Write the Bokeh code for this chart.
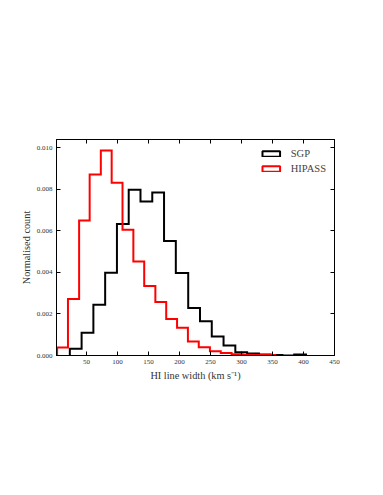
from bokeh.plotting import figure
from bokeh.models import (LinearAxis, FixedTicker, PrintfTickFormatter, Range1d,
                          Legend, LegendItem, ColumnDataSource, CustomJSTickFormatter)
from bokeh.embed import file_html
from bokeh.resources import INLINE

# ---- data ----
sgp_edges = [23, 42, 61, 80, 99, 118, 137, 156, 175, 194, 214, 233, 252, 271,
             290, 309, 328, 347, 366, 385, 404]
sgp_vals = [0.00032, 0.00109, 0.00244, 0.00399, 0.00633, 0.00798, 0.00742,
            0.00785, 0.00551, 0.00397, 0.00229, 0.00165, 0.00091, 0.00048,
            0.00016, 0.00010, 0.00005, 0.00002, 0.00000, 0.00005]
hipass_edges = [2.5, 20, 38, 55, 73, 90.5, 108, 125.5, 143, 161, 178.5, 196,
                213.5, 231, 249, 266.5, 284, 301.5, 319, 337, 354.5]
hipass_vals = [0.00038, 0.00272, 0.00650, 0.00872, 0.00987, 0.00832, 0.00605,
               0.00452, 0.00335, 0.00257, 0.00176, 0.00134, 0.00068, 0.00040,
               0.00020, 0.00012, 0.00006, 0.00004, 0.00002, 0.00002]
x_ticks = [50, 100, 150, 200, 250, 300, 350, 400, 450]
y_ticks = [0.0, 0.002, 0.004, 0.006, 0.008, 0.010]
series_names = ["SGP", "HIPASS"]
series_colors = ["black", "red"]

FONT = "Liberation Serif"


def step_outline(edges, vals):
    xs = [edges[0]]
    ys = [0.0]
    for i, v in enumerate(vals):
        xs += [edges[i], edges[i + 1]]
        ys += [v, v]
    xs.append(edges[-1])
    ys.append(0.0)
    return xs, ys


p = figure(width=375, height=487, output_backend="svg", toolbar_location=None,
           x_range=Range1d(1.5, 450), y_range=Range1d(0, 0.0104),
           min_border_left=56, min_border_right=41, min_border_top=139,
           min_border_bottom=132)
p.background_fill_color = "white"
p.border_fill_color = "white"
p.outline_line_color = "black"
p.outline_line_width = 1
p.xgrid.visible = False
p.ygrid.visible = False

for edges, vals, col in [(sgp_edges, sgp_vals, series_colors[0]),
                         (hipass_edges, hipass_vals, series_colors[1])]:
    xs, ys = step_outline(edges, vals)
    p.line(xs, ys, line_color=col, line_width=2, line_join="miter")

legend_items = []
nan = float("nan")
for name, col in zip(series_names, series_colors):
    src = ColumnDataSource(dict(left=[nan], right=[nan], top=[nan], bottom=[nan]))
    r = p.quad(left="left", right="right", top="top", bottom="bottom", source=src,
               fill_color="white", line_color=col, line_width=2)
    legend_items.append(LegendItem(label=name, renderers=[r]))

legend = Legend(items=legend_items, location="top_right", border_line_color=None,
                background_fill_alpha=0, label_text_font=FONT,
                label_text_font_size="10.5px", glyph_width=22, glyph_height=7,
                label_height=12, spacing=3, label_standoff=9, padding=0, margin=8)
p.add_layout(legend, "center")

xt = FixedTicker(ticks=x_ticks)
yt = FixedTicker(ticks=y_ticks)


def style(ax, show_labels=True):
    ax.axis_line_color = "black"
    ax.major_tick_in = 4
    ax.major_tick_out = 0
    ax.minor_tick_line_color = None
    ax.major_tick_line_color = "black"
    ax.major_label_text_font = FONT
    ax.major_label_text_color = "#333333"
    ax.major_label_text_font_size = "7px"
    ax.major_label_standoff = 4
    ax.axis_label_text_font = FONT
    ax.axis_label_text_font_style = "normal"
    ax.axis_label_text_font_size = "10.3px"
    ax.axis_label_text_color = "#333333"
    ax.axis_label_standoff = 2
    if not show_labels:
        ax.formatter = CustomJSTickFormatter(code="return ''")
        ax.major_label_standoff = 0


p.xaxis.ticker = xt
p.yaxis.ticker = yt
p.yaxis.formatter = PrintfTickFormatter(format="%.3f")
p.xaxis.axis_label = "HI line width (km s\u207b\u00b9)"
p.yaxis.axis_label = "Normalised count"
style(p.xaxis[0])
style(p.yaxis[0])
p.xaxis[0].axis_label_standoff = 3

top_ax = LinearAxis(ticker=xt)
right_ax = LinearAxis(ticker=yt)
style(top_ax, False)
style(right_ax, False)
p.add_layout(top_ax, "above")
p.add_layout(right_ax, "right")

open("out.html", "w").write(file_html(p, INLINE))
